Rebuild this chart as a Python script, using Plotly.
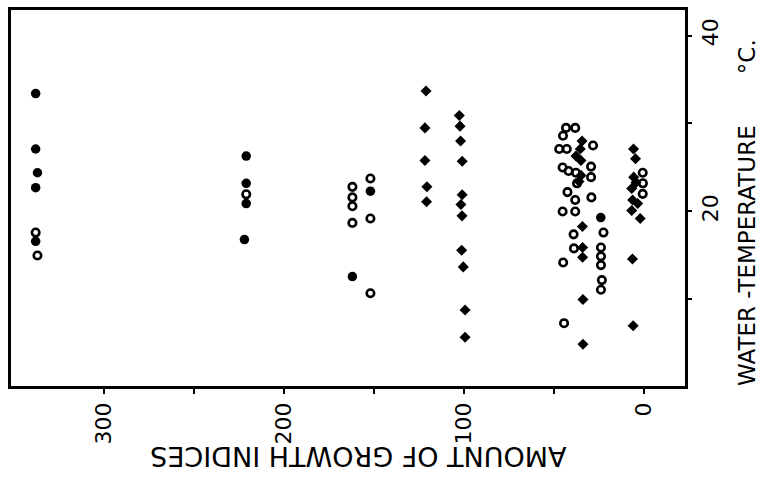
import plotly.graph_objects as go

# ---- data (growth indices vs water temperature) ----
filled_growth = [338, 338, 337, 338, 338, 221, 221, 221, 222, 162, 152, 24]
filled_temp = [33.4, 27.1, 24.4, 22.7, 16.6, 26.3, 23.2, 20.9, 16.8, 12.6, 22.3, 19.3]

open_growth = [338, 337, 221, 162, 162, 162, 162, 152, 152, 152,
               43.3, 38.2, 45.0, 47.1, 42.9, 28.3, 45.2, 41.9, 37.8, 29.4,
               29.4, 37.2, 42.5, 38.2, 29.2, 45.2, 38.2, 39.1, 22.5, 38.9,
               23.9, 23.9, 23.9, 44.9, 23.4, 23.9, 44.4, 0.7, 0.6, 0.7]
open_temp = [17.6, 15.0, 21.95, 22.8, 21.6, 20.6, 18.7, 23.75, 19.2, 10.7,
             29.5, 29.5, 28.6, 27.1, 27.1, 27.5, 25.0, 24.6, 24.4, 25.1,
             23.9, 23.2, 22.2, 21.3, 21.6, 20.0, 20.0, 17.4, 17.6, 15.8,
             15.9, 14.9, 13.9, 14.2, 12.2, 11.1, 7.3, 24.4, 23.2, 22.0]

diamond_growth = [121.1, 121.7, 121.7, 120.6, 120.8,
                  102.6, 102.2, 101.9, 101.0, 101.0, 101.7, 101.1, 101.3, 100.4, 99.4, 99.4,
                  34.4, 35.4, 37.8, 35.0, 35.0, 36.1, 34.2, 34.1, 34.1, 33.9, 33.9,
                  5.8, 4.7, 5.7, 4.4, 6.8, 6.3, 3.5, 6.8, 2.1, 6.4, 6.0]
diamond_temp = [33.7, 29.5, 25.8, 22.8, 21.1,
                30.9, 29.7, 28.0, 25.7, 21.9, 20.8, 19.5, 15.6, 13.7, 8.8, 5.7,
                28.0, 27.1, 26.3, 25.8, 24.1, 23.4, 18.3, 15.9, 14.8, 10.0, 4.9,
                27.1, 26.0, 23.9, 23.3, 22.6, 21.3, 20.9, 20.1, 19.2, 14.6, 7.0]

x_tickvals = [0, 50, 100, 150, 200, 250, 300]
x_ticktext = ["0", "", "100", "", "200", "", "300"]
y_tickvals = [10, 20, 30, 40]
y_ticktext = ["", "20", "", "40"]

x_title = "AMOUNT OF GROWTH INDICES"
y_title = "WATER -TEMPERATURE" + "&nbsp;" * 7 + "°C."

FONT = "DejaVu Sans"

fig = go.Figure()
fig.add_trace(go.Scatter(x=filled_growth, y=filled_temp, mode="markers",
                         marker=dict(symbol="circle", size=9.5, color="black"),
                         showlegend=False))
fig.add_trace(go.Scatter(x=open_growth, y=open_temp, mode="markers",
                         marker=dict(symbol="circle-open", size=7.5, color="black",
                                     line=dict(width=2.6, color="black")),
                         showlegend=False))
fig.add_trace(go.Scatter(x=diamond_growth, y=diamond_temp, mode="markers",
                         marker=dict(symbol="diamond", size=8.5, color="black"),
                         showlegend=False))

fig.update_layout(
    width=760, height=479,
    margin=dict(l=11, r=75, t=7, b=93),
    paper_bgcolor="white", plot_bgcolor="white",
    font=dict(family=FONT, color="black"),
    xaxis=dict(range=[351.7, -22.8], tickvals=x_tickvals, ticktext=x_ticktext,
               tickangle=-90, ticks="outside", ticklen=5, tickwidth=1.5,
               tickcolor="black", showgrid=False, zeroline=False,
               showline=True, linecolor="black", linewidth=2.5, mirror=True,
               tickfont=dict(size=22, family=FONT)),
    yaxis=dict(range=[0.16, 42.9], side="right", tickvals=y_tickvals,
               ticktext=y_ticktext, tickangle=-90, ticks="outside", ticklen=4,
               tickwidth=1.5, tickcolor="black", showgrid=False, zeroline=False,
               showline=True, linecolor="black", linewidth=2.5, mirror=True,
               tickfont=dict(size=22, family=FONT)),
    annotations=[
        dict(text=x_title, xref="paper", yref="paper", x=0.516, y=-0.187,
             xanchor="center", yanchor="middle", textangle=180, showarrow=False,
             font=dict(size=27, family=FONT, color="black")),
        dict(text=y_title, xref="paper", yref="paper", x=1.092, y=0.46,
             xanchor="center", yanchor="middle", textangle=-90, showarrow=False,
             font=dict(size=23, family=FONT, color="black")),
    ],
)

fig.write_html("out.html", config={"displayModeBar": False},
               post_script="document.body.style.margin='0';")
